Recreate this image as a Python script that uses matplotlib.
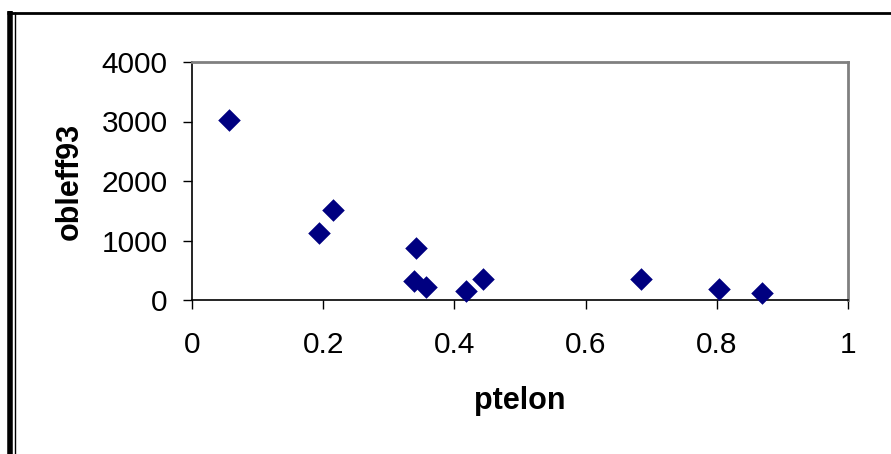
import matplotlib
matplotlib.use("Agg")
import matplotlib.pyplot as plt
from matplotlib.lines import Line2D

ptelon = [0.056, 0.215, 0.194, 0.342, 0.338, 0.357, 0.418, 0.444, 0.684, 0.803, 0.869]
obleff93 = [3025, 1513, 1121, 868, 319, 224, 157, 353, 347, 190, 112]
xticks = [0, 0.2, 0.4, 0.6, 0.8, 1]
xticklabels = ["0", "0.2", "0.4", "0.6", "0.8", "1"]
yticks = [0, 1000, 2000, 3000, 4000]

plt.rcParams['font.family'] = ['Liberation Sans', 'DejaVu Sans']

W, H = 891, 454
fig = plt.figure(figsize=(W / 100, H / 100), dpi=100)
fig.patch.set_facecolor('white')

ax = fig.add_axes([192 / W, (H - 300) / H, (848 - 192) / W, (300 - 62) / H])
ax.scatter(ptelon, obleff93, marker='D', s=11.5 ** 2, color='#000080', linewidths=0, zorder=3,
           clip_on=False)
ax.set_xlim(0, 1)
ax.set_ylim(0, 4000)
ax.set_xticks(xticks)
ax.set_xticklabels(xticklabels)
ax.set_yticks(yticks)
ax.tick_params(axis='both', direction='out', length=6.5, width=1, labelsize=21.5, colors='black')
ax.tick_params(axis='x', pad=16)
ax.tick_params(axis='y', pad=11)
for s in ['top', 'right']:
    ax.spines[s].set_color('#808080')
    ax.spines[s].set_linewidth(2)
for s in ['left', 'bottom']:
    ax.spines[s].set_color('black')
    ax.spines[s].set_linewidth(1.2)
ax.set_xlabel('ptelon', fontsize=22, fontweight='bold')
ax.set_ylabel('obleff93', fontsize=22, fontweight='bold')
ax.xaxis.set_label_coords(0.5, (300 - 386) / 238)
ax.yaxis.set_label_coords((85 - 192) / 656, 0.5)

# outer chart frame
def fl(x0, y0, x1, y1, lw, c):
    fig.add_artist(Line2D([x0 / W, x1 / W], [1 - y0 / H, 1 - y1 / H], lw=lw, color=c,
                          transform=fig.transFigure, solid_capstyle='butt'))

fl(7, 12.5, W, 12.5, 2, 'black')
fl(9.5, 11, 9.5, H, 4, 'black')
fl(15, 12, 15, H, 1, 'black')

fig.savefig('out.png', dpi=100)
